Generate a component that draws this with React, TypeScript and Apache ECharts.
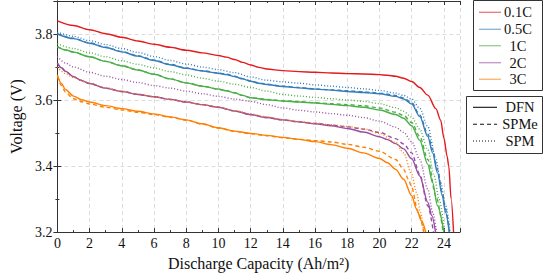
import React, { useEffect, useRef } from "react";
import * as echarts from "echarts";

const rateColors = ["#e41a1c", "#377eb8", "#4daf4a", "#984ea3", "#ff7f00"];
const rateLabels = ["0.1C", "0.5C", "1C", "2C", "3C"];
const modelLabels = ["DFN", "SPMe", "SPM"];

// [capacity (Ah/m^2), voltage (V)]
const dfn01C = [[0,3.840],[1,3.826],[2,3.813],[3,3.801],[4,3.790],[5,3.779],[6,3.769],[7,3.760],[8,3.751],[9,3.743],[10,3.735],[10.5,3.730],[11,3.723],[11.5,3.714],[12,3.706],[12.5,3.699],[13,3.694],[14,3.689],[15,3.686],[16,3.684],[17,3.682],[18,3.680],[19,3.679],[20,3.677],[20.5,3.675],[21,3.672],[21.5,3.666],[22,3.656],[22.5,3.638],[23,3.615],[23.5,3.574],[23.8,3.539],[24,3.485],[24.2,3.43],[24.3,3.40],[24.45,3.30],[24.6,3.2]];

const dfn05C = [[0,3.800],[1,3.786],[2,3.772],[3,3.759],[4,3.746],[5,3.733],[6,3.720],[7,3.707],[8,3.696],[9,3.688],[10,3.681],[10.5,3.677],[11,3.671],[11.5,3.664],[12,3.657],[12.5,3.651],[13,3.647],[14,3.641],[15,3.637],[16,3.633],[17,3.630],[18,3.626],[19,3.623],[20,3.619],[21,3.611],[21.5,3.603],[22,3.588],[22.5,3.55],[23,3.49],[23.3,3.44],[23.6,3.38],[23.9,3.31],[24.1,3.26],[24.33,3.2]];
const spme05C = [[0,3.801],[1,3.787],[2,3.773],[3,3.760],[4,3.747],[5,3.734],[6,3.721],[7,3.708],[8,3.697],[9,3.689],[10,3.682],[10.5,3.678],[11,3.672],[11.5,3.665],[12,3.658],[12.5,3.652],[13,3.648],[14,3.642],[15,3.638],[16,3.634],[17,3.631],[18,3.628],[19,3.625],[20,3.621],[21,3.614],[21.5,3.606],[22,3.592],[22.5,3.555],[23,3.497],[23.3,3.45],[23.6,3.39],[23.9,3.32],[24.1,3.27],[24.35,3.2]];
const spm05C = [[0,3.806],[1,3.793],[2,3.780],[3,3.768],[4,3.756],[5,3.744],[6,3.732],[7,3.720],[8,3.709],[9,3.700],[10,3.692],[11,3.683],[12,3.670],[13,3.660],[14,3.655],[15,3.651],[16,3.646],[17,3.642],[18,3.638],[19,3.634],[20,3.629],[21,3.621],[21.5,3.614],[22,3.603],[22.5,3.575],[23,3.52],[23.5,3.42],[23.8,3.35],[24.1,3.28],[24.4,3.2]];

const dfn1C = [[0,3.762],[0.5,3.752],[1,3.745],[2,3.731],[3,3.717],[4,3.704],[5,3.691],[6,3.678],[7,3.664],[8,3.652],[9,3.642],[10,3.633],[10.5,3.628],[11,3.622],[11.5,3.614],[12,3.607],[13,3.601],[14,3.597],[15,3.594],[16,3.591],[17,3.587],[18,3.583],[19,3.578],[20,3.570],[21,3.556],[21.5,3.545],[22,3.522],[22.5,3.478],[23,3.405],[23.3,3.35],[23.6,3.28],[24,3.2]];
const spme1C = [[0,3.762],[0.5,3.752],[1,3.745],[2,3.731],[3,3.717],[4,3.704],[5,3.691],[6,3.678],[7,3.664],[8,3.652],[9,3.642],[10,3.633],[10.5,3.628],[11,3.622],[11.5,3.614],[12,3.607],[13,3.602],[14,3.598],[15,3.595],[16,3.592],[17,3.589],[18,3.586],[19,3.583],[20,3.576],[21,3.563],[21.5,3.553],[22,3.532],[22.5,3.49],[23,3.42],[23.5,3.31],[23.95,3.2]];
const spm1C = [[0,3.771],[1,3.756],[2,3.743],[3,3.731],[4,3.719],[5,3.708],[6,3.697],[7,3.686],[8,3.676],[9,3.666],[10,3.657],[11,3.648],[12,3.638],[13,3.627],[14,3.617],[15,3.612],[16,3.608],[17,3.604],[18,3.600],[19,3.596],[20,3.589],[21,3.577],[21.5,3.566],[22,3.548],[22.5,3.512],[23,3.45],[23.4,3.37],[23.7,3.30],[24.05,3.2]];

const dfn2C = [[0,3.712],[0.25,3.698],[0.5,3.687],[1,3.671],[1.5,3.659],[2,3.650],[3,3.636],[4,3.626],[5,3.617],[6,3.610],[7,3.602],[8,3.594],[9,3.586],[10,3.578],[11,3.567],[12,3.556],[13,3.547],[14,3.540],[15,3.534],[16,3.528],[17,3.522],[18,3.514],[19,3.503],[20,3.489],[20.5,3.480],[21,3.468],[21.5,3.452],[22,3.422],[22.5,3.37],[23,3.29],[23.25,3.25],[23.48,3.2]];
const spme2C = [[0,3.712],[0.25,3.698],[0.5,3.687],[1,3.671],[1.5,3.659],[2,3.650],[3,3.636],[4,3.626],[5,3.617],[6,3.610],[7,3.602],[8,3.594],[9,3.586],[10,3.578],[11,3.567],[12,3.556],[13,3.547],[14,3.540],[15,3.534],[16,3.529],[17,3.524],[18,3.519],[19,3.512],[20,3.502],[21,3.483],[21.5,3.467],[22,3.44],[22.5,3.375],[23,3.28],[23.35,3.2]];
const spm2C = [[0,3.732],[0.5,3.712],[1,3.700],[2,3.684],[3,3.672],[4,3.662],[5,3.653],[6,3.644],[7,3.636],[8,3.627],[9,3.619],[10,3.611],[11,3.603],[12,3.596],[13,3.586],[14,3.576],[15,3.569],[16,3.564],[17,3.559],[18,3.554],[19,3.547],[20,3.536],[21,3.518],[21.5,3.502],[22,3.474],[22.5,3.42],[23,3.33],[23.3,3.26],[23.55,3.2]];

const dfn3C = [[0,3.676],[0.25,3.650],[0.5,3.632],[1,3.612],[1.5,3.601],[2,3.594],[3,3.583],[4,3.574],[5,3.566],[6,3.558],[7,3.549],[8,3.540],[9,3.528],[10,3.516],[11,3.506],[12,3.499],[13,3.493],[14,3.487],[15,3.481],[16,3.474],[17,3.465],[18,3.454],[19,3.440],[20,3.423],[20.5,3.41],[21,3.390],[21.5,3.36],[22,3.31],[22.3,3.27],[22.6,3.235],[22.87,3.2]];
const spme3C = [[0,3.672],[0.25,3.644],[0.5,3.624],[1,3.604],[1.5,3.595],[2,3.588],[3,3.578],[4,3.570],[5,3.563],[6,3.556],[7,3.548],[8,3.539],[9,3.527],[10,3.515],[11,3.505],[12,3.498],[13,3.492],[14,3.486],[15,3.481],[16,3.477],[17,3.473],[18,3.466],[19,3.457],[20,3.445],[21,3.42],[21.5,3.39],[21.8,3.36],[22,3.335],[22.4,3.26],[22.75,3.2]];
const spm3C = [[0,3.700],[0.5,3.680],[1,3.668],[2,3.650],[3,3.637],[4,3.627],[5,3.618],[6,3.610],[7,3.602],[8,3.594],[9,3.586],[10,3.578],[11,3.568],[12,3.558],[13,3.549],[14,3.541],[15,3.535],[16,3.530],[17,3.525],[18,3.520],[19,3.513],[20,3.499],[21,3.472],[21.5,3.44],[22,3.375],[22.3,3.32],[22.55,3.26],[22.75,3.2]];

const dfnSets = [dfn01C, dfn05C, dfn1C, dfn2C, dfn3C];
const spmeSets = [null, spme05C, spme1C, spme2C, spme3C];
const spmSets = [null, spm05C, spm1C, spm2C, spm3C];

const FONT = "Liberation Serif";
const dashStyles: any[] = ["solid", [4, 3], [1, 2]];

export default function App() {
  const ref = useRef<HTMLDivElement>(null);
  useEffect(() => {
    if (!ref.current) return;
    const chart = echarts.init(ref.current, null, { renderer: "svg" });
    const series: any[] = [];
    [dfnSets, spmeSets, spmSets].forEach((sets, mi) => {
      sets.forEach((d, ri) => {
        if (!d) return;
        series.push({
          type: "line",
          name: rateLabels[ri] + " " + modelLabels[mi],
          data: d,
          showSymbol: false,
          smooth: 0.3,
          smoothMonotone: "x",
          lineStyle: { color: rateColors[ri], width: 1.4, type: dashStyles[mi] },
          z: 3 + mi,
        });
      });
    });

    const legendGraphics: any[] = [];
    legendGraphics.push({
      type: "rect",
      shape: { x: 473.5, y: 0.5, width: 69, height: 90 },
      style: { fill: "#fff", stroke: "#333", lineWidth: 1 },
      z: 10,
    });
    const ly = [12.3, 29.3, 45.7, 62.7, 79.3];
    rateLabels.forEach((lab, i) => {
      legendGraphics.push({
        type: "line",
        shape: { x1: 479, y1: ly[i], x2: 501, y2: ly[i] },
        style: { stroke: rateColors[i], lineWidth: 1.3, opacity: 0.6 },
        z: 11,
      });
      legendGraphics.push({
        type: "text",
        x: 518,
        y: ly[i],
        style: { text: lab, fontFamily: FONT, fontSize: 14.5, fill: "#111", align: "center", verticalAlign: "middle" },
        z: 11,
      });
    });
    legendGraphics.push({
      type: "rect",
      shape: { x: 466.5, y: 96.5, width: 76, height: 57 },
      style: { fill: "#fff", stroke: "#333", lineWidth: 1 },
      z: 10,
    });
    const my = [107.3, 124.3, 141];
    modelLabels.forEach((lab, i) => {
      legendGraphics.push({
        type: "line",
        shape: { x1: 473, y1: my[i], x2: 497, y2: my[i] },
        style: { stroke: "#111", lineWidth: 1.1, lineDash: i === 0 ? null : dashStyles[i] },
        z: 11,
      });
      legendGraphics.push({
        type: "text",
        x: 520,
        y: my[i],
        style: { text: lab, fontFamily: FONT, fontSize: 14.5, fill: "#111", align: "center", verticalAlign: "middle" },
        z: 11,
      });
    });

    const axisLine = { show: true, lineStyle: { color: "#333", width: 1 } };
    const tick = { show: true, inside: true, length: 4, lineStyle: { color: "#333" } };
    const minor = { show: true, splitNumber: 2, length: 2, lineStyle: { color: "#333" } };
    const split = { show: true, lineStyle: { color: "#dcdcdc", type: [4, 3], width: 1 } };

    chart.setOption({
      animation: false,
      backgroundColor: "#fff",
      textStyle: { fontFamily: FONT },
      grid: { left: 50, top: 1, width: 410, height: 232, containLabel: false },
      xAxis: [
        {
          type: "value", min: 0, max: 25, interval: 2, position: "bottom",
          axisLine, axisTick: tick, minorTick: minor, splitLine: split,
          axisLabel: { showMaxLabel: false, margin: 4, fontFamily: FONT, fontSize: 14, color: "#111" },
          name: "Discharge Capacity (Ah/m²)", nameLocation: "middle", nameGap: 21,
          nameTextStyle: { fontFamily: FONT, fontSize: 16, color: "#111" },
        },
        {
          type: "value", min: 0, max: 25, interval: 2, position: "top",
          axisLine, axisTick: tick, minorTick: minor, splitLine: { show: false },
          axisLabel: { show: false },
        },
      ],
      yAxis: [
        {
          type: "value", min: 3.2, max: 3.9, interval: 0.2, position: "left",
          axisLine, axisTick: tick, minorTick: minor, splitLine: split,
          axisLabel: { showMaxLabel: false, margin: 5, fontFamily: FONT, fontSize: 14, color: "#111", formatter: (v: number) => v.toFixed(1) },
          name: "Voltage (V)", nameLocation: "middle", nameGap: 30,
          nameTextStyle: { fontFamily: FONT, fontSize: 16, color: "#111" },
        },
        {
          type: "value", min: 3.2, max: 3.9, interval: 0.2, position: "right",
          axisLine, axisTick: tick, minorTick: minor, splitLine: { show: false },
          axisLabel: { show: false },
        },
      ],
      series,
      graphic: legendGraphics,
    });
    return () => chart.dispose();
  }, []);
  return <div ref={ref} style={{ position: "fixed", left: 0, top: 0, width: 544, height: 276 }} />;
}
